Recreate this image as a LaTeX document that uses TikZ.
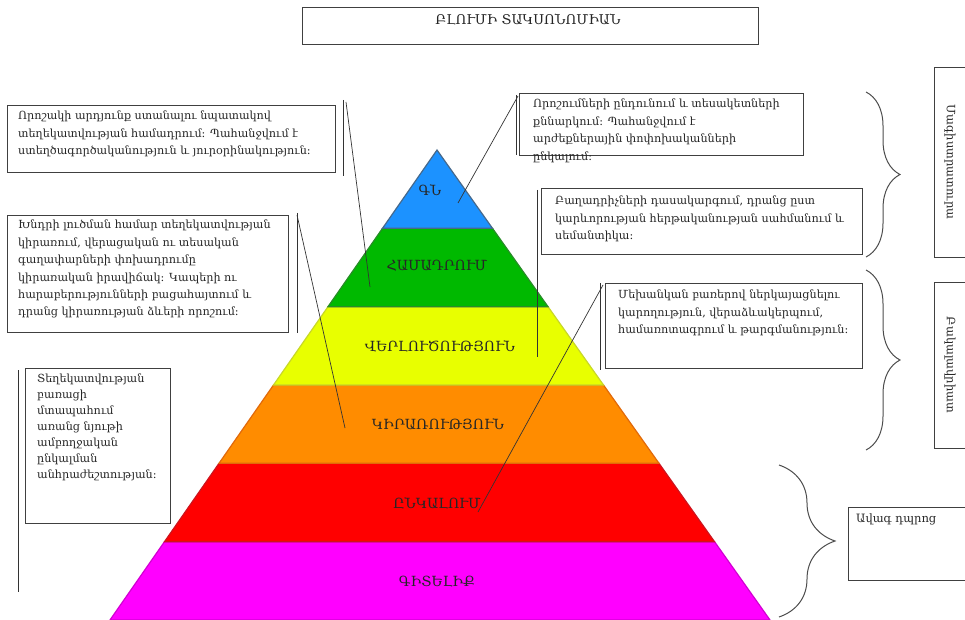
\documentclass[tikz,border=0pt]{standalone}
\usepackage{fontspec}
\setmainfont{DejaVu Serif}
\usetikzlibrary{calc,decorations.pathreplacing}
\definecolor{cBlue}{RGB}{28,146,255}
\definecolor{cBlueD}{RGB}{70,105,140}
\definecolor{cGreen}{RGB}{0,185,0}
\definecolor{cGreenD}{RGB}{40,140,40}
\definecolor{cYellow}{RGB}{232,255,0}
\definecolor{cYellowD}{RGB}{200,215,40}
\definecolor{cOrange}{RGB}{255,140,0}
\definecolor{cOrangeD}{RGB}{225,105,10}
\definecolor{cRed}{RGB}{255,0,0}
\definecolor{cRedD}{RGB}{205,20,30}
\definecolor{cMag}{RGB}{255,0,255}
\definecolor{cMagD}{RGB}{210,0,210}
\begin{document}
\begin{tikzpicture}[x=1pt,y=-1pt,
  boxline/.style={draw=black!75, line width=0.9pt, anchor=north west, inner sep=0pt, outer sep=0pt},
  txt/.style={anchor=north west, inner sep=0pt, align=left, font=\fontsize{11.2}{17.4}\selectfont, text=black!85},
  band/.style={line width=1.2pt},
  lvl/.style={font=\fontsize{14}{16}\selectfont, text=black!85},
  conn/.style={draw=black!80, line width=0.7pt},
  brc/.style={draw=black!70, line width=1pt, decorate, decoration={brace, amplitude=#1}},
  vtxt/.style={rotate=-90, font=\fontsize{11.5}{14}\selectfont, text=black!85}
]
\useasboundingbox (0,0) rectangle (965,620);

% title
\node[boxline, minimum width=456, minimum height=37] (title) at (302,7) {};
\node[font=\fontsize{13.5}{15}\selectfont, text=black!85] (ttl) at (528,20) {ԲԼՈՒՄԻ ՏԱԿՍՈՆՈՄԻԱՆ};

% pyramid
\coordinate (A) at (437,150);
\coordinate (L) at (110,620);
\coordinate (R) at (770,620);
\foreach \k in {0,...,6} {
  \coordinate (l\k) at ($(A)!\k/6!(L)$);
  \coordinate (r\k) at ($(A)!\k/6!(R)$);
}
\filldraw[band, fill=cMag, draw=cMagD] (l5) -- (l6) -- (r6) -- (r5) -- cycle;
\filldraw[band, fill=cRed, draw=cRedD] (l4) -- (l5) -- (r5) -- (r4) -- cycle;
\filldraw[band, fill=cOrange, draw=cOrangeD] (l3) -- (l4) -- (r4) -- (r3) -- cycle;
\filldraw[band, fill=cYellow, draw=cYellowD] (l2) -- (l3) -- (r3) -- (r2) -- cycle;
\filldraw[band, fill=cGreen, draw=cGreenD] (l1) -- (l2) -- (r2) -- (r1) -- cycle;
\filldraw[band, fill=cBlue, draw=cBlueD] (l0) -- (l1) -- (r1) -- cycle;

\node[lvl] (p1) at (430,190) {ԳՆ};
\node[lvl] (p2) at (437,266) {ՀԱՄԱԴՐՈՒՄ};
\node[lvl] (p3) at (440,346) {ՎԵՐԼՈՒԾՈՒԹՅՈՒՆ};
\node[lvl] (p4) at (438,424) {ԿԻՐԱՌՈՒԹՅՈՒՆ};
\node[lvl] (p5) at (437,503) {ԸՆԿԱԼՈՒՄ};
\node[lvl] (p6) at (437,582) {ԳԻՏԵԼԻՔ};

% text boxes
\node[boxline, minimum width=328, minimum height=67] (b1) at (7,105) {};
\node[txt] (t1) at (18,111) {Որոշակի արդյունք ստանալու նպատակով\\տեղեկատվության համադրում: Պահանջվում է\\ստեղծագործականություն և յուրօրինակություն:};

\node[boxline, minimum width=284, minimum height=62] (b2) at (519,93) {};
\node[txt] (t2) at (533,99) {Որոշումների ընդունում և տեսակետների\\քննարկում: Պահանջվում է\\արժեքներային փոփոխականների\\ընկալում:};

\node[boxline, minimum width=281, minimum height=117] (b3) at (7,215) {};
\node[txt] (t3) at (18,220) {Խնդրի լուծման համար տեղեկատվության\\կիրառում, վերացական ու տեսական\\գաղափարների փոխադրումը\\կիրառական իրավիճակ: Կապերի ու\\հարաբերությունների բացահայտում և\\դրանց կիրառության ձևերի որոշում:};

\node[boxline, minimum width=321, minimum height=66] (b4) at (541,188) {};
\node[txt] (t4) at (555,196) {Բաղադրիչների դասակարգում, դրանց ըստ\\կարևորության հերթականության սահմանում և\\սեմանտիկա:};

\node[boxline, minimum width=257, minimum height=85] (b5) at (605,283) {};
\node[txt] (t5) at (618,290) {Մեխանկան բառերով ներկայացնելու\\կարողություն, վերաձևակերպում,\\համառոտագրում և թարգմանություն:};

\node[boxline, minimum width=145, minimum height=155] (b6) at (25,368) {};
\node[txt, font=\fontsize{11.2}{16}\selectfont] (t6) at (37,374) {Տեղեկատվության\\բառացի\\մտապահում\\առանց նյութի\\ամբողջական\\ընկալման\\անհրաժեշտության:};

% right boxes
\node[boxline, minimum width=45, minimum height=190] (r1b) at (934,67) {};
\node[vtxt] (v1) at (950,162) {Մագիստրատուրա};
\node[boxline, minimum width=45, minimum height=166] (r2b) at (934,282) {};
\node[vtxt] (v2) at (950,365) {Բակալավրիատ};
\node[boxline, minimum width=130, minimum height=73] (r3b) at (848,507) {};
\node[txt, font=\fontsize{11.5}{14}\selectfont] (v3) at (856,514) {Ավագ դպրոց};

% braces
\coordinate (br1a) at (866,92);  \coordinate (br1b) at (866,257);
\coordinate (br2a) at (866,270); \coordinate (br2b) at (866,450);
\coordinate (br3a) at (779,465); \coordinate (br3b) at (779,617);
\draw[brc=34] (br1a) -- (br1b);
\draw[brc=34] (br2a) -- (br2b);
\draw[brc=56] (br3a) -- (br3b);

% connectors
\coordinate (c1a) at (343,100); \coordinate (c1b) at (343,176);
\coordinate (c1s) at (346,102); \coordinate (c1e) at (370,287);
\draw[conn] (c1a) -- (c1b);
\draw[conn] (c1s) -- (c1e);

\coordinate (c2a) at (516,95); \coordinate (c2b) at (516,155);
\coordinate (c2s) at (518,96); \coordinate (c2e) at (458,203);
\draw[conn] (c2a) -- (c2b);
\draw[conn] (c2s) -- (c2e);

\coordinate (c3a) at (297,213); \coordinate (c3b) at (297,333);
\coordinate (c3s) at (297,215); \coordinate (c3e) at (345,428);
\draw[conn] (c3a) -- (c3b);
\draw[conn] (c3s) -- (c3e);

\coordinate (c4a) at (537,190); \coordinate (c4b) at (537,357);
\draw[conn] (c4a) -- (c4b);

\coordinate (c5a) at (600,283); \coordinate (c5b) at (600,370);
\coordinate (c5s) at (603,285); \coordinate (c5e) at (478,512);
\draw[conn] (c5a) -- (c5b);
\draw[conn] (c5s) -- (c5e);

\coordinate (c6a) at (18,370); \coordinate (c6b) at (18,592);
\draw[conn] (c6a) -- (c6b);
\end{tikzpicture}
\end{document}
